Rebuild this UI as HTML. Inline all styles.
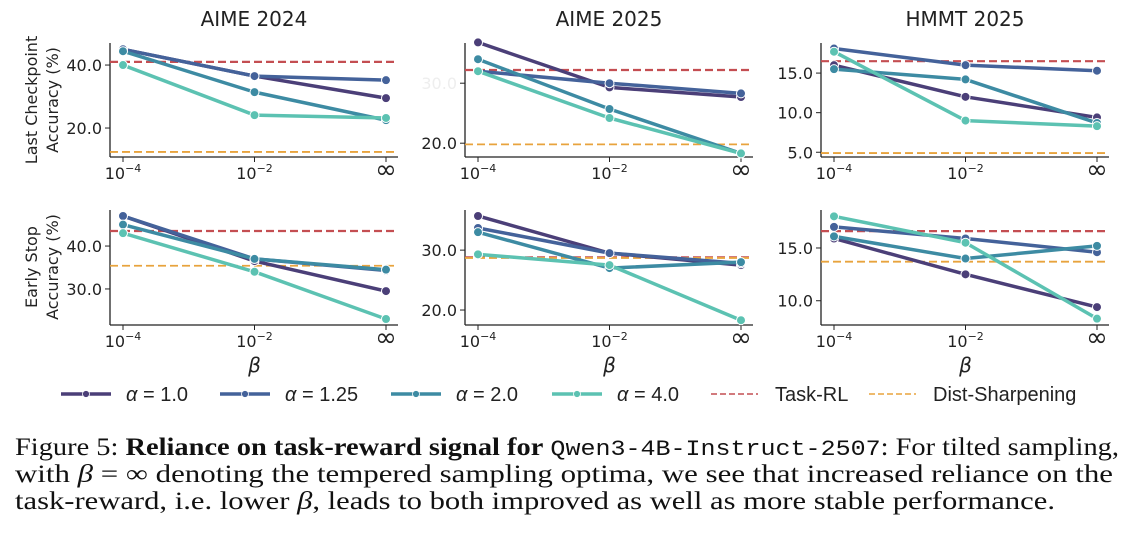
<!DOCTYPE html>
<html><head><meta charset="utf-8"><style>
body{margin:0;background:#fff;width:1133px;height:530px;overflow:hidden}
svg text{font-family:"DejaVu Sans","Liberation Sans",sans-serif;fill:#222}
</style></head><body>
<svg id="fig" width="1133" height="530" xmlns="http://www.w3.org/2000/svg"></svg>
<script>
const xCats=["1e-4","1e-2","inf"];
const seriesNames=["α = 1.0","α = 1.25","α = 2.0","α = 4.0"];
const colors=["#4b3f78","#44629a","#3d8ba3","#5cc2b2"];
// per panel values: [α1.0, α1.25, α2.0, α4.0]
const p1=[[45,36.5,29.5],[45,36.5,35.2],[44.4,31.4,22.5],[40,24.1,23.2]];
const p2=[[36.8,29.3,27.7],[32,30,28.3],[34,25.7,18.3],[32,24.2,18.3]];
const p3=[[16,12,9.4],[18.1,16,15.3],[15.5,14.2,8.7],[17.7,9,8.3]];
const p4=[[47,36.5,29.5],[47,37,34.3],[45,37,34.5],[43,34,23]];
const p5=[[35.7,29.5,27.5],[33.7,29.5,27.8],[33,27,28],[29.3,27.5,18.3]];
const p6=[[15.9,12.5,9.4],[17,15.9,14.6],[16.1,14,15.2],[18,15.5,8.3]];
const taskRL=[41,32.2,16.5,43.5,28.8,16.6];
const distSharp=[12.4,19.8,4.9,35.4,28.7,13.7];
const yTicks1=[20,40],yTicks2=[20,30],yTicks3=[5,10,15],yTicks4=[30,40],yTicks5=[20,30],yTicks6=[10,15];
const yDomains=[[10.8,47],[17.7,36.7],[4.4,18.8],[21.6,48.4],[17.5,36.7],[7.7,18.6]];
const panels=[p1,p2,p3,p4,p5,p6];
const ticks=[yTicks1,yTicks2,yTicks3,yTicks4,yTicks5,yTicks6];
const titles=["AIME 2024","AIME 2025","HMMT 2025"];
const NS="http://www.w3.org/2000/svg";
const svg=document.getElementById('fig');
function mk(t,a,txt){const e=document.createElementNS(NS,t);for(const k in a)e.setAttribute(k,a[k]);if(txt!==undefined)e.textContent=txt;svg.appendChild(e);return e;}
const axLeft=[110,465,821],axW=288;
const rows=[[43,157],[210,325]];
for(let i=0;i<6;i++){
  const c=i%3,r=Math.floor(i/3);
  const L=axLeft[c],R=L+axW,T=rows[r][0],B=rows[r][1];
  const [y0,y1]=yDomains[i];
  const yS=v=>B-(v-y0)/(y1-y0)*(B-T);
  const xS=j=>L+13+j*131.5;
  let e=mk('line',{x1:L,y1:T,x2:L,y2:B,stroke:'#222','stroke-width':1.3});
  
  
  e=mk('line',{x1:L,y1:B,x2:R,y2:B,stroke:'#222','stroke-width':1.3});
  
  
  ticks[i].forEach(t=>{
    const y=yS(t);
    mk('line',{x1:L-5,y1:y,x2:L,y2:y,stroke:'#222'});
    let st=(i==1&&t==30)?'fill:#eee':'';
    e=mk('text',{x:L-8,y:y+6,'text-anchor':'end','font-size':16,style:st},t.toFixed(1));
    
    
  });
  xCats.forEach((cat,j)=>{
    const x=xS(j);
    mk('line',{x1:x,y1:B,x2:x,y2:B+5,stroke:'#222'});
    let t;
    if(cat==='inf'){t=mk('text',{x:x,y:B+21,'text-anchor':'middle','font-size':26},'∞');}
    else{t=mk('text',{x:x,y:B+22,'text-anchor':'middle','font-size':16});
      const exp=cat.split('e')[1].replace('-','−');
      t.innerHTML='10<tspan dy="-7" font-size="11">'+exp+'</tspan>';}
    
    
  });
  e=mk('line',{x1:L,y1:yS(taskRL[i]),x2:R,y2:yS(taskRL[i]),stroke:'#c44e52','stroke-width':2.2,'stroke-dasharray':'8 4'});
  
  
  e=mk('line',{x1:L,y1:yS(distSharp[i]),x2:R,y2:yS(distSharp[i]),stroke:'#e8a33d','stroke-width':1.8,'stroke-dasharray':'8 4'});
  
  
  panels[i].forEach((s,k)=>{
    const pts=s.map((v,j)=>xS(j)+','+yS(v)).join(' ');
    const pl=mk('polyline',{points:pts,fill:'none',stroke:colors[k],'stroke-width':3.5,'stroke-linejoin':'round'});
    
    
    s.forEach((v,j)=>{
      const ci=mk('circle',{cx:xS(j),cy:yS(v),r:4.5,fill:colors[k],stroke:'#fff','stroke-width':1});
      
      
    });
  });
  if(r==0){e=mk('text',{x:(L+R)/2,y:26,'text-anchor':'middle','font-size':20},titles[c]);
    
    }
  else{e=mk('text',{x:xS(1),y:372,'text-anchor':'middle','font-size':20,'font-style':'italic'},'β');
    
    }
}
[["Last Checkpoint","Accuracy (%)",100],["Early Stop","Accuracy (%)",267]].forEach(l=>{
  let e=mk('text',{transform:`translate(37,${l[2]}) rotate(-90)`,'text-anchor':'middle','font-size':16},l[0]);
  
  
  e=mk('text',{transform:`translate(58,${l[2]}) rotate(-90)`,'text-anchor':'middle','font-size':16},l[1]);
  
  
});
const legX=[61,220,391,552];
seriesNames.forEach((n,k)=>{
  const x=legX[k];
  let e=mk('line',{x1:x,y1:394,x2:x+50,y2:394,stroke:colors[k],'stroke-width':3.5});
  
  
  mk('circle',{cx:x+25,cy:394,r:3.5,fill:colors[k],stroke:'#fff','stroke-width':0.8});
  e=mk('text',{x:x+65,y:401,'font-size':20,style:'font-family:"Liberation Sans",sans-serif'},'');
  e.innerHTML='<tspan font-style="italic">α</tspan> = '+n.split('= ')[1];
  
  
});
[[711,'#c44e52','Task-RL'],[869,'#e8a33d','Dist-Sharpening']].forEach(d=>{
  let e=mk('line',{x1:d[0],y1:394,x2:d[0]+47,y2:394,stroke:d[1],'stroke-width':1.6,'stroke-dasharray':'6 3'});
  
  
  e=mk('text',{x:d[0]+64,y:401,'font-size':20,style:'font-family:"Liberation Sans",sans-serif'},d[2]);
  
  
});
const cap=[
 ['Figure 5: <tspan font-weight="bold">Reliance on task-reward signal for</tspan> <tspan font-family="Liberation Mono" font-size="22">Qwen3-4B-Instruct-2507</tspan>: For tilted sampling,',1104,455],
 ['with <tspan font-style="italic">β</tspan> = ∞ denoting the tempered sampling optima, we see that increased reliance on the',1098,482],
 ['task-reward, i.e. lower <tspan font-style="italic">β</tspan>, leads to both improved as well as more stable performance.',1040,509]];
cap.forEach(c=>{
  const e=mk('text',{x:15,y:c[2],'font-size':25,style:'font-family:"Liberation Serif",serif;fill:#111',textLength:c[1],lengthAdjust:'spacingAndGlyphs'});
  e.innerHTML=c[0];
  
  
});
</script>
</body></html>
